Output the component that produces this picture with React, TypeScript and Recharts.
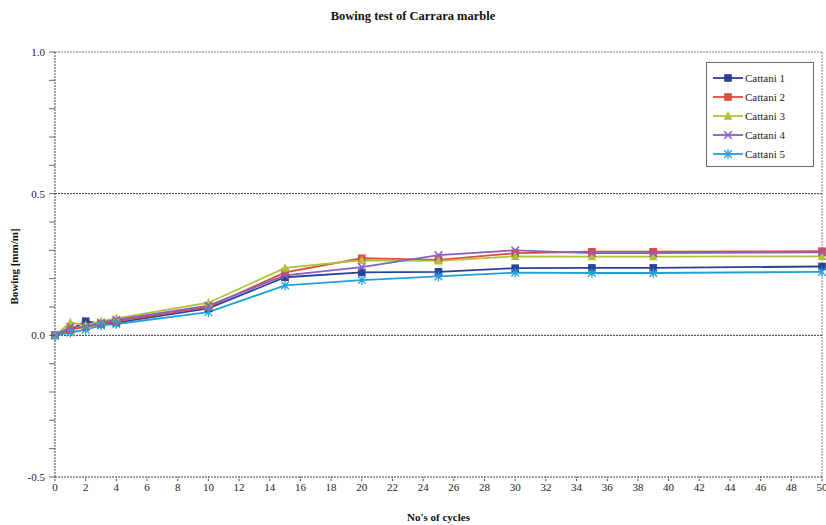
import React from 'react';
import { LineChart, Line, XAxis, YAxis, ReferenceLine, Label } from 'recharts';

const cycles = [0, 1, 2, 3, 4, 10, 15, 20, 25, 30, 35, 39, 50];
const cattani1 = [0, 0.02, 0.05, 0.04, 0.045, 0.095, 0.205, 0.222, 0.224, 0.237, 0.238, 0.238, 0.243];
const cattani2 = [0, 0.02, 0.03, 0.04, 0.05, 0.1, 0.222, 0.272, 0.266, 0.29, 0.295, 0.295, 0.297];
const cattani3 = [0, 0.045, 0.035, 0.05, 0.06, 0.115, 0.238, 0.265, 0.263, 0.279, 0.278, 0.278, 0.279];
const cattani4 = [0, 0.03, 0.03, 0.045, 0.055, 0.105, 0.212, 0.241, 0.283, 0.3, 0.29, 0.29, 0.293];
const cattani5 = [0, 0.01, 0.02, 0.035, 0.04, 0.082, 0.176, 0.195, 0.208, 0.221, 0.22, 0.22, 0.224];

const xTicks = [0, 2, 4, 6, 8, 10, 12, 14, 16, 18, 20, 22, 24, 26, 28, 30, 32, 34, 36, 38, 40, 42, 44, 46, 48, 50];
const yTicks = [-0.5, -0.4, -0.3, -0.2, -0.1, 0, 0.1, 0.2, 0.3, 0.4, 0.5, 0.6, 0.7, 0.8, 0.9, 1.0];

const series = [
  { key: 'c1', name: 'Cattani 1', color: '#2c3f9a', shape: 'square' },
  { key: 'c2', name: 'Cattani 2', color: '#e04a3c', shape: 'square' },
  { key: 'c3', name: 'Cattani 3', color: '#b2c235', shape: 'triangle' },
  { key: 'c4', name: 'Cattani 4', color: '#8b5fc2', shape: 'cross' },
  { key: 'c5', name: 'Cattani 5', color: '#22a1d9', shape: 'star' },
];

const data = cycles.map((x, i) => ({
  x,
  c1: cattani1[i],
  c2: cattani2[i],
  c3: cattani3[i],
  c4: cattani4[i],
  c5: cattani5[i],
}));

const font = '"Liberation Serif", "Times New Roman", serif';

const Marker = ({ cx, cy, shape, color }: any) => {
  const s = 3.8;
  if (shape === 'square') {
    return <rect x={cx - s} y={cy - s} width={s * 2} height={s * 2} fill={color} />;
  }
  if (shape === 'triangle') {
    return <polygon points={`${cx},${cy - s - 1} ${cx - s - 0.5},${cy + s} ${cx + s + 0.5},${cy + s}`} fill={color} />;
  }
  if (shape === 'cross') {
    return (
      <g stroke={color} strokeWidth={1.5}>
        <line x1={cx - s} y1={cy - s} x2={cx + s} y2={cy + s} />
        <line x1={cx - s} y1={cy + s} x2={cx + s} y2={cy - s} />
      </g>
    );
  }
  return (
    <g stroke={color} strokeWidth={1.3}>
      <line x1={cx - s} y1={cy - s} x2={cx + s} y2={cy + s} />
      <line x1={cx - s} y1={cy + s} x2={cx + s} y2={cy - s} />
      <line x1={cx} y1={cy - s - 1} x2={cx} y2={cy + s + 1} />
    </g>
  );
};

const LegendBox = () => (
  <div style={{ position: 'absolute', top: 62, left: 706, width: 108, boxSizing: 'border-box', border: '1px solid #666', padding: '5px 6px 3px 6px', background: '#fff', fontFamily: font, fontSize: 11 }}>
    {series.map((s) => (
      <div key={s.key} style={{ display: 'flex', alignItems: 'center', height: 19 }}>
        <svg width={30} height={10} style={{ marginRight: 2 }}>
          <line x1={0} y1={5} x2={30} y2={5} stroke={s.color} strokeWidth={1.8} />
          <Marker cx={15} cy={5} shape={s.shape} color={s.color} />
        </svg>
        <span style={{ color: '#222' }}>{s.name}</span>
      </div>
    ))}
  </div>
);

const YTick = ({ x, y, payload }: any) => {
  const v = payload.value;
  const major = Math.abs(Math.round(v * 2) - v * 2) < 1e-6;
  return (
    <g>
      <line x1={x + 2} y1={y} x2={x + 8} y2={y} stroke="#444" strokeWidth={0.8} />
      {major && (
        <text x={x - 2} y={y + 4} textAnchor="end" fontSize={11} fill="#222" fontFamily={font}>
          {v.toFixed(1)}
        </text>
      )}
    </g>
  );
};

export default function App() {
  return (
    <div style={{ position: 'absolute', left: 0, top: 0, width: 826, height: 525, background: '#fff' }}>
      <div style={{ position: 'absolute', top: 9, width: 826, textAlign: 'center', fontFamily: font, fontWeight: 'bold', fontSize: 12.5, color: '#111' }}>
        Bowing test of Carrara marble
      </div>
      <LineChart width={826} height={525} data={data} margin={{ top: 52, right: 4, bottom: 18, left: 15 }}>
        <XAxis
          dataKey="x"
          type="number"
          domain={[0, 50]}
          ticks={xTicks}
          interval={0}
          stroke="#444"
          tickSize={4}
          tick={{ fontSize: 11, fill: '#222', fontFamily: font }}
          height={30}
          strokeDasharray="2 1"
        >
          <Label value="No's of cycles" position="insideBottom" offset={-14} style={{ fontFamily: font, fontWeight: 'bold', fontSize: 11, fill: '#111' }} />
        </XAxis>
        <YAxis
          type="number"
          domain={[-0.5, 1]}
          ticks={yTicks}
          interval={0}
          width={40}
          stroke="#444"
          strokeDasharray="2 1"
          tickLine={false}
          tick={<YTick />}
        >
          <Label value="Bowing [mm/m]" angle={-90} position="insideLeft" offset={-1} dy={2} style={{ textAnchor: 'middle', fontFamily: font, fontWeight: 'bold', fontSize: 11, fill: '#111' }} />
        </YAxis>
        <ReferenceLine y={1} stroke="#888" strokeDasharray="2 1" />
        <ReferenceLine x={50} stroke="#888" strokeDasharray="2 1" />
        <ReferenceLine y={0.5} stroke="#333" strokeDasharray="2 1" />
        <ReferenceLine y={0} stroke="#333" strokeDasharray="2 1" />
        {series.map((s) => (
          <Line
            key={s.key}
            dataKey={s.key}
            name={s.name}
            stroke={s.color}
            strokeWidth={1.8}
            isAnimationActive={false}
            dot={(p: any) => <Marker key={`${s.key}-${p.index}`} cx={p.cx} cy={p.cy} shape={s.shape} color={s.color} />}
          />
        ))}
      </LineChart>
      <LegendBox />
    </div>
  );
}
